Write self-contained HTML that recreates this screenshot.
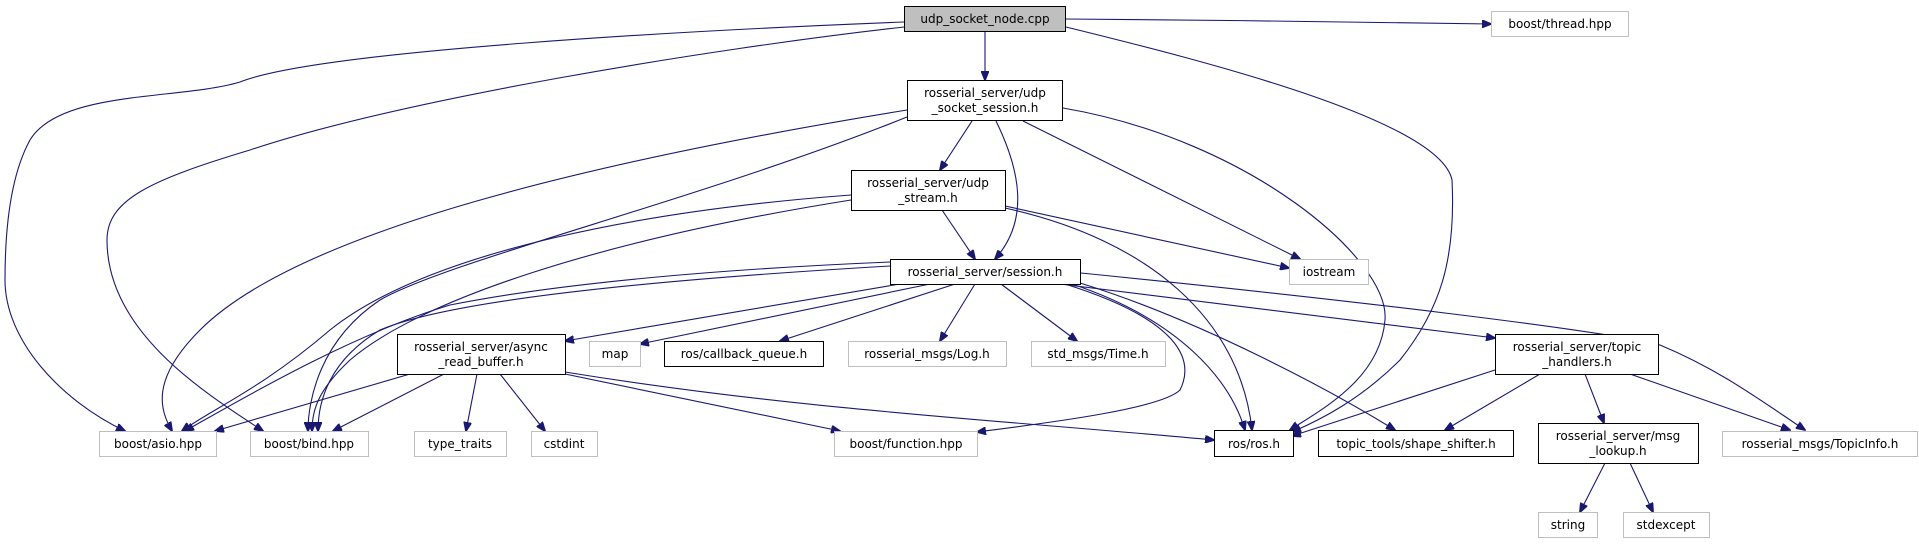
<!DOCTYPE html>
<html><head><meta charset="utf-8"><style>
html,body{margin:0;padding:0;background:#fff;}
svg{display:block;}
text{font-family:"DejaVu Sans","Liberation Sans",sans-serif;font-size:12px;fill:#000;}
.e{fill:none;stroke:#191970;stroke-width:1.1;}
.g{fill:#fff;stroke:#bfbfbf;stroke-width:1;}
.b{fill:#fff;stroke:#000;stroke-width:1;}
</style></head><body>
<svg width="1919" height="544" viewBox="0 0 1919 544" xmlns="http://www.w3.org/2000/svg">
<defs><marker id="a" markerWidth="10" markerHeight="8" refX="9" refY="4" orient="auto" markerUnits="userSpaceOnUse"><path d="M0,0 L10,4 L0,8 z" fill="#191970" stroke="#191970"/></marker></defs>
<g marker-end="url(#a)">
<!-- root -->
<path class="e" d="M985,31 L985,80"/>
<path class="e" d="M1066,19 C1200,20 1380,22 1491,24"/>
<path class="e" d="M904,22 C700,30 320,50 240,82 C180,100 60,90 30,140 C8,180 5,240 5,280 C5,340 60,400 125,431"/>
<path class="e" d="M904,27 C700,50 400,100 250,150 C150,180 107,200 107,240 C107,330 200,390 263,431"/>
<path class="e" d="M1066,27 C1200,60 1440,120 1452,180 C1456,260 1440,310 1400,360 C1360,400 1320,420 1292,432"/>
<!-- udp_socket_session -->
<path class="e" d="M972,121 L940,170"/>
<path class="e" d="M996,121 C1020,170 1030,220 995,259"/>
<path class="e" d="M1023,121 L1300,259"/>
<path class="e" d="M1063,108 C1250,140 1390,260 1385,320 C1380,380 1320,410 1290,430"/>
<path class="e" d="M907,110 C600,160 300,230 200,330 C150,380 160,410 172,431"/>
<path class="e" d="M907,117 C700,200 450,260 380,300 C320,340 308,400 308,431"/>
<!-- udp_stream -->
<path class="e" d="M942,210 L975,259"/>
<path class="e" d="M1005,206 L1289,268"/>
<path class="e" d="M1005,208 C1150,240 1240,320 1252,430"/>
<path class="e" d="M851,195 C650,210 430,250 330,330 C260,390 210,410 182,431"/>
<path class="e" d="M851,200 C600,240 420,300 350,360 C318,390 312,410 312,431"/>
<!-- session -->
<path class="e" d="M900,284 L565,341"/>
<path class="e" d="M930,284 L640,344"/>
<path class="e" d="M955,284 L780,341"/>
<path class="e" d="M975,284 L940,341"/>
<path class="e" d="M1001,284 L1077,341"/>
<path class="e" d="M1060,284 L1495,338"/>
<path class="e" d="M1081,273 C1350,300 1600,330 1660,345 C1720,370 1760,400 1805,430"/>
<path class="e" d="M1072,284 C1180,320 1230,380 1245,430"/>
<path class="e" d="M1080,283 C1200,320 1330,390 1395,430"/>
<path class="e" d="M1065,284 C1180,320 1195,360 1180,390 C1160,410 1030,425 977,432"/>
<path class="e" d="M890,262 C700,270 550,285 450,305 C350,335 240,400 185,431"/>
<path class="e" d="M890,266 C650,280 450,300 380,330 C330,360 318,400 318,431"/>
<!-- topic handlers -->
<path class="e" d="M1495,370 L1292,436"/>
<path class="e" d="M1540,374 L1445,430"/>
<path class="e" d="M1585,374 L1604,423"/>
<path class="e" d="M1630,374 L1790,430"/>
<!-- msg_lookup -->
<path class="e" d="M1605,463 L1580,512"/>
<path class="e" d="M1630,463 L1653,512"/>
<!-- async -->
<path class="e" d="M410,374 L215,431"/>
<path class="e" d="M444,374 L333,431"/>
<path class="e" d="M477,374 L466,431"/>
<path class="e" d="M500,374 L545,431"/>
<path class="e" d="M565,374 L840,431"/>
<path class="e" d="M565,372 C800,410 1000,420 1214,440"/>
</g>
<!-- nodes -->
<rect x="904.5" y="6.5" width="161" height="25" fill="#bfbfbf" stroke="#000"/>
<text x="985" y="23" text-anchor="middle">udp_socket_node.cpp</text>
<rect class="g" x="1491.5" y="11.5" width="137" height="25"/>
<text x="1560" y="28" text-anchor="middle">boost/thread.hpp</text>
<rect class="b" x="907.5" y="80.5" width="155" height="40"/>
<text x="985" y="97" text-anchor="middle">rosserial_server/udp</text>
<text x="985" y="112" text-anchor="middle">_socket_session.h</text>
<rect class="b" x="851.5" y="170.5" width="154" height="40"/>
<text x="928" y="187" text-anchor="middle">rosserial_server/udp</text>
<text x="928" y="202" text-anchor="middle">_stream.h</text>
<rect class="b" x="890.5" y="259.5" width="190" height="25"/>
<text x="985" y="276" text-anchor="middle">rosserial_server/session.h</text>
<rect class="g" x="1289.5" y="259.5" width="79" height="25"/>
<text x="1329" y="276" text-anchor="middle">iostream</text>
<rect class="b" x="397.5" y="334.5" width="168" height="40"/>
<text x="481" y="351" text-anchor="middle">rosserial_server/async</text>
<text x="481" y="366" text-anchor="middle">_read_buffer.h</text>
<rect class="g" x="589.5" y="341.5" width="51" height="25"/>
<text x="615" y="358" text-anchor="middle">map</text>
<rect class="b" x="664.5" y="341.5" width="159" height="25"/>
<text x="744" y="358" text-anchor="middle">ros/callback_queue.h</text>
<rect class="g" x="848.5" y="341.5" width="158" height="25"/>
<text x="927" y="358" text-anchor="middle">rosserial_msgs/Log.h</text>
<rect class="g" x="1031.5" y="341.5" width="134" height="25"/>
<text x="1098" y="358" text-anchor="middle">std_msgs/Time.h</text>
<rect class="b" x="1495.5" y="334.5" width="163" height="40"/>
<text x="1577" y="351" text-anchor="middle">rosserial_server/topic</text>
<text x="1577" y="366" text-anchor="middle">_handlers.h</text>
<rect class="g" x="99.5" y="431.5" width="117" height="25"/>
<text x="158" y="448" text-anchor="middle">boost/asio.hpp</text>
<rect class="g" x="250.5" y="431.5" width="118" height="25"/>
<text x="309" y="448" text-anchor="middle">boost/bind.hpp</text>
<rect class="g" x="414.5" y="431.5" width="92" height="25"/>
<text x="460" y="448" text-anchor="middle">type_traits</text>
<rect class="g" x="531.5" y="431.5" width="66" height="25"/>
<text x="564" y="448" text-anchor="middle">cstdint</text>
<rect class="g" x="834.5" y="431.5" width="143" height="25"/>
<text x="906" y="448" text-anchor="middle">boost/function.hpp</text>
<rect class="b" x="1214.5" y="430.5" width="79" height="26"/>
<text x="1254" y="448" text-anchor="middle">ros/ros.h</text>
<rect class="b" x="1318.5" y="430.5" width="195" height="26"/>
<text x="1416" y="448" text-anchor="middle">topic_tools/shape_shifter.h</text>
<rect class="b" x="1538.5" y="423.5" width="160" height="40"/>
<text x="1618" y="440" text-anchor="middle">rosserial_server/msg</text>
<text x="1618" y="455" text-anchor="middle">_lookup.h</text>
<rect class="g" x="1722.5" y="431.5" width="195" height="25"/>
<text x="1820" y="448" text-anchor="middle">rosserial_msgs/TopicInfo.h</text>
<rect class="g" x="1538.5" y="512.5" width="59" height="25"/>
<text x="1568" y="529" text-anchor="middle">string</text>
<rect class="g" x="1623.5" y="512.5" width="86" height="25"/>
<text x="1666" y="529" text-anchor="middle">stdexcept</text>
</svg>
</body></html>
